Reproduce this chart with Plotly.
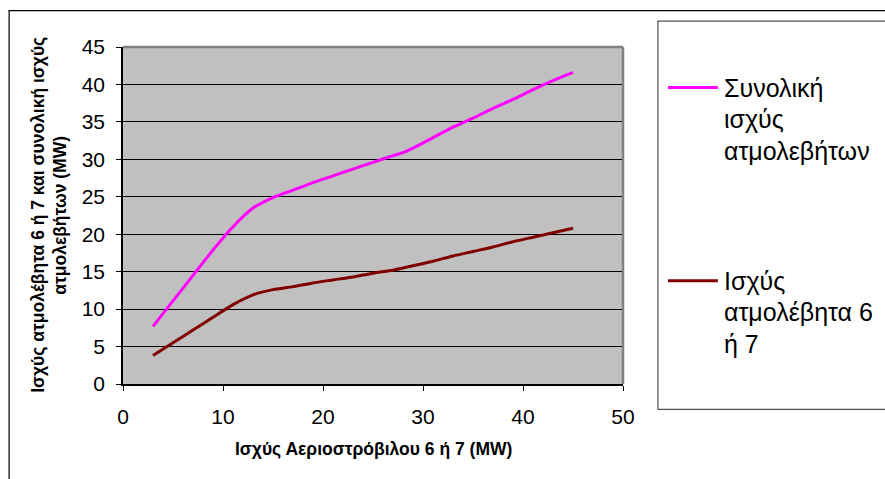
import plotly.graph_objects as go

# Data
gas_turbine_mw = [3, 5, 7, 9, 11, 13, 15, 17, 19, 21, 23, 25, 27, 28, 29, 31, 33, 35, 37, 39, 41, 43, 45]
total_boiler_mw = [7.7, 11.1, 14.5, 17.9, 21.0, 23.5, 24.9, 25.9, 26.9, 27.8, 28.7, 29.6, 30.5, 30.9,
                   31.5, 32.9, 34.3, 35.5, 36.8, 38.0, 39.3, 40.5, 41.6]
boiler_6_7_mw = [3.8, 5.5, 7.2, 8.9, 10.6, 11.9, 12.6, 13.0, 13.5, 13.9, 14.3, 14.8, 15.2, 15.5,
                 15.8, 16.4, 17.1, 17.7, 18.3, 19.0, 19.6, 20.2, 20.8]

x_ticks = [0, 10, 20, 30, 40, 50]
y_ticks = [0, 5, 10, 15, 20, 25, 30, 35, 40, 45]

name_total = "Συνολική ισχύς ατμολεβήτων"
name_boiler = "Ισχύς ατμολέβητα 6 ή 7"
x_title = "Ισχύς Αεριοστρόβιλου 6 ή 7 (MW)"
y_title_lines = ["Ισχύς ατμολέβητα 6 ή 7 και συνολική ισχύς", "ατμολεβήτων (MW)"]
legend_lines_total = ["Συνολική", "ισχύς", "ατμολεβήτων"]
legend_lines_boiler = ["Ισχύς", "ατμολέβητα 6", "ή 7"]

COL_TOTAL = "#ff00ff"
COL_BOILER = "#800000"

W, H = 885, 479
L, R, T, B = 122.5, 623.0, 47.0, 384.5


def px(xp):
    return (xp - L) / (R - L)


def py(yp):
    return (B - yp) / (B - T)


fig = go.Figure()
fig.add_trace(go.Scatter(x=gas_turbine_mw, y=total_boiler_mw, mode="lines", name=name_total,
                         line=dict(color=COL_TOTAL, width=3, shape="spline", smoothing=0.6)))
fig.add_trace(go.Scatter(x=gas_turbine_mw, y=boiler_6_7_mw, mode="lines", name=name_boiler,
                         line=dict(color=COL_BOILER, width=3, shape="spline", smoothing=0.6)))

font_family = "Liberation Sans, Arial, sans-serif"

fig.update_layout(
    width=W, height=H,
    margin=dict(l=L, r=W - R, t=T, b=H - B, pad=0),
    paper_bgcolor="white",
    plot_bgcolor="#c0c0c0",
    showlegend=False,
    font=dict(family=font_family, color="black"),
    xaxis=dict(range=[0, 50], tickvals=x_ticks, ticks="outside", ticklen=5, tickcolor="black",
               showline=True, linecolor="black", linewidth=1.5, showgrid=False, zeroline=False,
               tickfont=dict(size=21, family=font_family), ticklabelstandoff=8),
    yaxis=dict(range=[0, 45], tickvals=y_ticks, ticks="outside", ticklen=5, tickcolor="black",
               showline=True, linecolor="black", linewidth=1.5, showgrid=True, gridcolor="black",
               gridwidth=1.2, zeroline=False,
               tickfont=dict(size=21, family=font_family), ticklabelstandoff=7),
)

shapes = []
# plot area gray frame (top / right)
shapes.append(dict(type="line", xref="paper", yref="paper", x0=0, x1=1, y0=1, y1=1,
                   line=dict(color="#808080", width=2.5)))
shapes.append(dict(type="line", xref="paper", yref="paper", x0=1, x1=1, y0=0, y1=1,
                   line=dict(color="#808080", width=2.5)))
# outer chart border
shapes.append(dict(type="rect", xref="paper", yref="paper",
                   x0=px(8.5), x1=px(900), y0=py(500), y1=py(10.5),
                   line=dict(color="black", width=1.2)))
# legend box
shapes.append(dict(type="rect", xref="paper", yref="paper",
                   x0=px(658), x1=px(900), y0=py(410), y1=py(21),
                   line=dict(color="#505050", width=1.2)))
# legend line samples
shapes.append(dict(type="line", xref="paper", yref="paper", x0=px(668), x1=px(718),
                   y0=py(87.5), y1=py(87.5), line=dict(color=COL_TOTAL, width=3)))
shapes.append(dict(type="line", xref="paper", yref="paper", x0=px(668), x1=px(718),
                   y0=py(281), y1=py(281), line=dict(color=COL_BOILER, width=3)))

annotations = []
for i, t in enumerate(legend_lines_total):
    annotations.append(dict(text=t, xref="paper", yref="paper", x=px(722), y=py(88 + 31.5 * i),
                            xanchor="left", yanchor="middle", showarrow=False,
                            font=dict(size=25, family=font_family, color="black")))
for i, t in enumerate(legend_lines_boiler):
    annotations.append(dict(text=t, xref="paper", yref="paper", x=px(722), y=py(281 + 31.5 * i),
                            xanchor="left", yanchor="middle", showarrow=False,
                            font=dict(size=25, family=font_family, color="black")))
annotations.append(dict(text="<b>" + x_title + "</b>", xref="paper", yref="paper",
                        x=px(373), y=py(450), xanchor="center", yanchor="middle", showarrow=False,
                        font=dict(size=17.5, family=font_family)))
for i, t in enumerate(y_title_lines):
    annotations.append(dict(text="<b>" + t + "</b>", xref="paper", yref="paper",
                            x=px(38 + 22 * i), y=py(215.5), xanchor="center", yanchor="middle",
                            textangle=-90, showarrow=False,
                            font=dict(size=17.5, family=font_family)))

fig.update_layout(shapes=shapes, annotations=annotations)

fig.write_html("out.html")
